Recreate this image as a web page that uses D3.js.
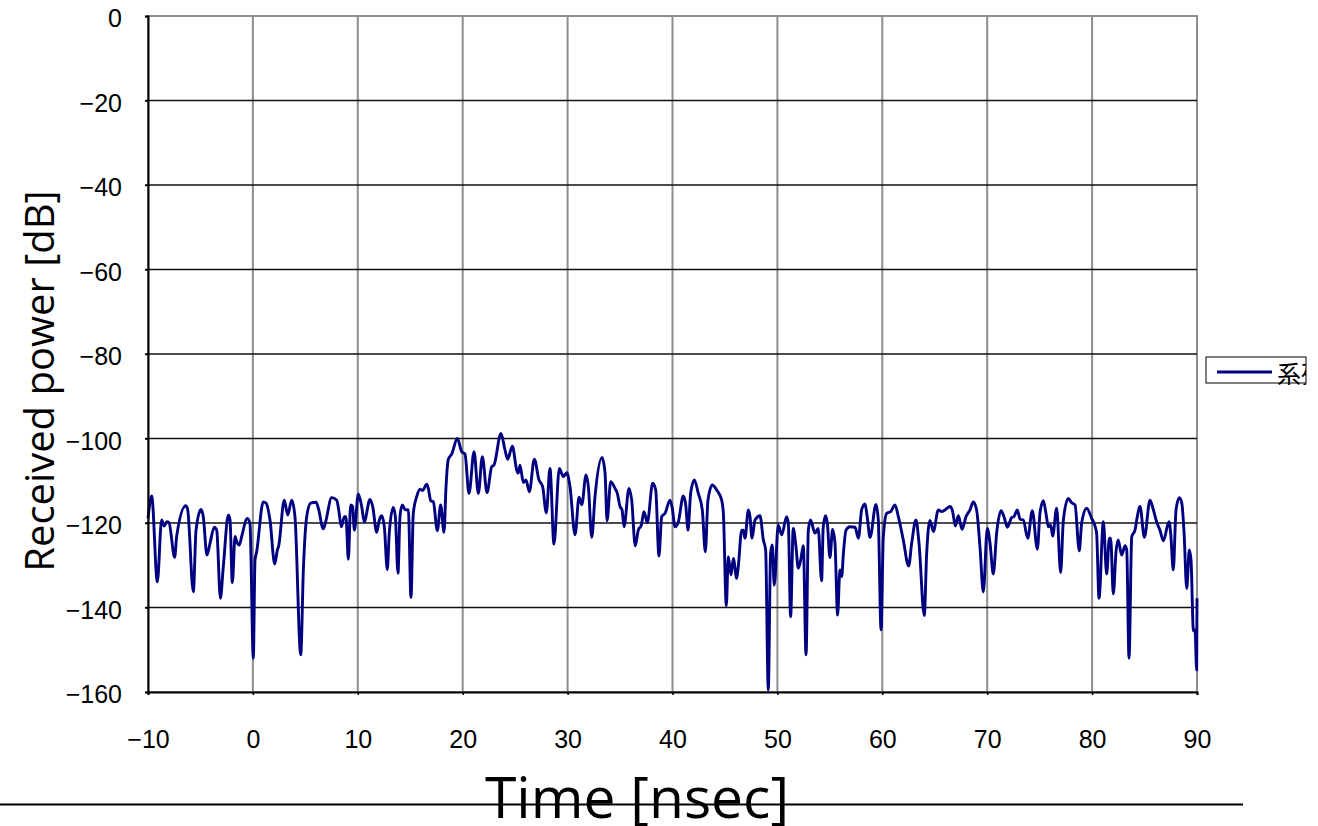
<!DOCTYPE html>
<html lang="en">
<head>
    <meta charset="UTF-8">
    <title>Received power vs time</title>
    <script src="https://d3js.org/d3.v7.min.js"></script>
    <style>
        body {
            margin: 0;
            background: #fff;
        }

        .tick-label {
            font-family: "Liberation Sans", Arial, sans-serif;
            font-size: 25px;
            fill: #000;
        }

        .axis-title {
            font-family: "Open Sans", "Noto Sans", sans-serif;
            fill: #000;
        }

        .grid-x {
            stroke: #8e8e8e;
            stroke-width: 2;
        }

        .grid-y {
            stroke: #111;
            stroke-width: 1.3;
        }

        .series {
            fill: none;
            stroke: #000080;
            stroke-width: 2.9;
            stroke-linejoin: round;
        }
    </style>
</head>
<body>
    <div id="chart"></div>

    <script>
        // time axis (nsec) and received power (dB)
        const timeNs = [
            -10.0, -9.65, -9.11, -8.70, -8.47, -8.20, -8.00, -7.46, -7.27, -6.40,
            -6.22, -5.68, -5.42, -4.95, -4.73, -4.38, -4.09, -3.68, -3.45, -3.10,
            -2.82, -2.34, -2.18, -1.96, -1.70, -1.54, -1.29, -1.07, -0.53, -0.28,
            0.04, 0.20, 0.36, 0.99, 1.25, 1.63, 2.08, 2.33, 2.46, 2.99,
            3.32, 3.70, 4.01, 4.56, 4.81, 5.13, 5.51, 6.02, 6.24, 6.71,
            6.90, 7.51, 7.99, 8.18, 8.43, 8.72, 8.87, 9.10, 9.32, 9.51,
            9.67, 10.05, 10.37, 10.62, 11.16, 11.42, 11.80, 12.05, 12.28, 12.53,
            12.81, 13.00, 13.38, 13.58, 13.83, 14.02, 14.24, 14.50, 14.82, 15.07,
            15.29, 15.61, 15.93, 16.19, 16.57, 16.72, 16.95, 17.20, 17.58, 17.90,
            18.22, 18.41, 18.63, 18.95, 19.49, 19.90, 20.22, 20.60, 21.08, 21.49,
            21.87, 22.32, 22.76, 22.98, 23.65, 24.03, 24.29, 24.73, 25.15, 25.30,
            25.46, 25.78, 26.03, 26.35, 26.83, 27.27, 27.62, 27.97, 28.32, 28.70,
            29.21, 29.59, 29.92, 30.23, 30.71, 31.09, 31.35, 31.76, 31.98, 32.30,
            32.61, 33.28, 33.57, 33.76, 34.11, 34.52, 34.74, 35.00, 35.19, 35.38,
            35.85, 36.11, 36.45, 36.74, 37.03, 37.28, 37.60, 38.11, 38.40, 38.71,
            38.97, 39.29, 39.76, 39.98, 40.24, 40.56, 41.03, 41.26, 41.48, 41.73,
            42.08, 42.46, 42.84, 43.13, 43.38, 43.80, 44.21, 44.69, 44.85, 45.13,
            45.32, 45.58, 45.80, 46.12, 46.27, 46.60, 46.75, 46.91, 47.23, 47.39,
            47.58, 47.87, 48.34, 48.66, 48.88, 49.13, 49.35, 49.51, 49.70, 50.08,
            50.41, 50.88, 51.04, 51.26, 51.51, 51.77, 51.99, 52.22, 52.47, 52.73,
            52.95, 53.16, 53.58, 53.89, 54.21, 54.37, 54.59, 54.76, 55.01, 55.26,
            55.49, 55.74, 55.96, 56.13, 56.29, 56.54, 56.92, 57.40, 57.72, 58.03,
            58.35, 58.56, 58.83, 59.40, 59.62, 59.88, 60.10, 60.42, 60.80, 61.21,
            61.53, 62.00, 62.51, 62.80, 63.21, 63.50, 64.00, 64.23, 64.55, 64.87,
            65.34, 65.66, 65.98, 66.46, 66.71, 66.96, 67.25, 67.60, 67.98, 68.36,
            68.67, 68.99, 69.31, 69.63, 70.01, 70.27, 70.58, 70.90, 71.32, 71.60,
            71.92, 72.34, 72.55, 72.87, 73.13, 73.44, 73.86, 74.30, 74.78, 75.03,
            75.35, 75.60, 75.83, 76.05, 76.24, 76.62, 77.00, 77.26, 77.73, 78.05,
            78.37, 78.78, 79.00, 79.48, 79.96, 80.27, 80.43, 80.66, 81.07, 81.39,
            81.64, 81.77, 82.02, 82.28, 82.49, 82.82, 83.14, 83.30, 83.52, 83.78,
            84.09, 84.25, 84.57, 84.98, 85.52, 85.84, 86.16, 86.47, 86.79, 87.33,
            87.49, 87.74, 88.00, 88.32, 88.55, 88.77, 89.02, 89.27, 89.43, 89.66,
            89.81, 89.97, 90.00
        ];

        const powerDb = [
            -118.9, -113.6, -133.9, -119.3, -120.7, -119.7, -119.9, -128.1, -123.2, -115.9,
            -116.8, -136.3, -121.7, -116.8, -118.5, -127.6, -124.8, -121.0, -121.7, -137.8,
            -130.3, -118.1, -119.3, -134.1, -123.2, -124.4, -125.2, -123.2, -118.9, -120.1,
            -152.0, -128.8, -126.8, -115.0, -115.3, -119.3, -129.7, -126.4, -125.4, -114.6,
            -118.1, -114.6, -118.5, -151.2, -131.1, -118.5, -115.3, -115.1, -116.5, -121.4,
            -120.1, -114.0, -114.6, -116.9, -120.9, -118.5, -118.5, -128.6, -115.7, -116.1,
            -121.7, -113.1, -116.1, -119.7, -114.4, -116.1, -122.2, -119.3, -118.3, -120.9,
            -131.0, -122.4, -116.3, -118.5, -131.9, -118.5, -115.7, -116.8, -116.9, -137.6,
            -117.7, -113.8, -112.0, -112.3, -110.8, -111.8, -114.7, -115.0, -121.8, -115.7,
            -122.2, -111.4, -104.9, -103.7, -100.0, -103.1, -103.7, -113.0, -103.1, -113.0,
            -104.3, -112.8, -106.7, -106.3, -98.8, -102.7, -104.9, -101.8, -107.5, -108.2,
            -106.3, -110.4, -109.8, -112.6, -104.9, -109.8, -111.4, -117.6, -107.1, -125.0,
            -107.1, -109.0, -108.1, -111.4, -122.8, -113.9, -115.7, -108.6, -111.4, -123.4,
            -113.8, -104.5, -108.2, -119.5, -110.2, -111.8, -113.0, -116.1, -116.9, -120.9,
            -111.8, -114.6, -125.4, -121.7, -120.5, -117.3, -119.9, -110.6, -112.2, -127.8,
            -118.5, -117.7, -114.6, -116.5, -120.9, -119.7, -113.6, -115.7, -121.7, -113.0,
            -109.8, -113.0, -116.9, -126.8, -114.6, -111.0, -112.2, -114.6, -117.7, -139.6,
            -128.0, -132.3, -128.4, -133.1, -130.3, -121.7, -121.7, -123.6, -116.9, -118.5,
            -123.6, -119.3, -118.3, -124.0, -126.4, -159.5, -127.2, -125.2, -134.7, -120.5,
            -122.8, -118.5, -120.1, -142.2, -121.3, -125.6, -130.7, -128.8, -125.4, -151.2,
            -121.7, -119.3, -122.4, -121.3, -133.7, -120.9, -118.3, -120.1, -128.2, -121.5,
            -124.8, -141.8, -131.1, -132.7, -127.2, -121.7, -120.9, -121.0, -123.6, -116.9,
            -115.5, -118.5, -123.4, -115.6, -119.3, -145.3, -123.2, -117.7, -117.3, -115.7,
            -118.5, -124.0, -130.2, -124.8, -119.3, -124.8, -141.9, -127.2, -119.4, -122.0,
            -116.9, -117.3, -116.9, -116.1, -117.3, -120.7, -118.3, -121.5, -118.5, -116.9,
            -115.0, -116.9, -125.6, -136.3, -121.3, -124.8, -132.1, -122.4, -117.1, -118.5,
            -121.0, -118.7, -118.5, -116.9, -119.1, -119.3, -123.6, -117.1, -126.2, -117.7,
            -114.7, -117.7, -120.9, -120.5, -123.1, -116.5, -131.7, -119.3, -114.2, -115.2,
            -115.7, -126.6, -120.1, -116.5, -118.9, -120.7, -122.4, -137.8, -119.7, -132.1,
            -123.6, -123.6, -136.8, -126.8, -124.0, -127.6, -125.4, -126.4, -152.0, -123.2,
            -121.7, -119.3, -116.1, -123.4, -114.6, -116.9, -119.8, -121.7, -124.2, -119.7,
            -122.4, -131.1, -116.9, -114.0, -115.3, -122.4, -135.5, -126.4, -128.8, -145.5,
            -145.3, -154.8, -137.8
        ];

        const xTicks = [-10, 0, 10, 20, 30, 40, 50, 60, 70, 80, 90];
        const yTicks = [0, -20, -40, -60, -80, -100, -120, -140, -160];
        const seriesName = "系列1";

        const totalWidth = 1318, totalHeight = 826;
        const plot = { left: 148, right: 1197, top: 16, bottom: 692 };

        const svg = d3.select("#chart")
            .append("svg")
            .attr("width", totalWidth)
            .attr("height", totalHeight);

        const x = d3.scaleLinear().domain([-10, 90]).range([plot.left, plot.right]);
        const y = d3.scaleLinear().domain([-160, 0]).range([plot.bottom, plot.top]);
        const fmt = d3.format("d");

        // plot border (grey) then grid
        svg.append("rect")
            .attr("x", plot.left)
            .attr("y", plot.top)
            .attr("width", plot.right - plot.left)
            .attr("height", plot.bottom - plot.top)
            .attr("fill", "#fff")
            .attr("stroke", "#8e8e8e")
            .attr("stroke-width", 2);

        svg.append("g")
            .selectAll("line")
            .data(xTicks.slice(1, -1))
            .join("line")
            .attr("class", "grid-x")
            .attr("x1", d => x(d)).attr("x2", d => x(d))
            .attr("y1", plot.top).attr("y2", plot.bottom);

        svg.append("g")
            .selectAll("line")
            .data(yTicks.slice(1, -1))
            .join("line")
            .attr("class", "grid-y")
            .attr("x1", plot.left - 3).attr("x2", plot.right)
            .attr("y1", d => y(d)).attr("y2", d => y(d));

        // data line
        const line = d3.line()
            .x((d, i) => x(timeNs[i]))
            .y(d => y(d))
            .curve(d3.curveMonotoneX);

        svg.append("path")
            .datum(powerDb)
            .attr("class", "series")
            .attr("d", line);

        // axes
        const xAxis = svg.append("g")
            .attr("transform", `translate(0,${plot.bottom})`)
            .call(d3.axisBottom(x).tickValues(xTicks).tickSize(3).tickFormat(fmt));

        const yAxis = svg.append("g")
            .attr("transform", `translate(${plot.left},0)`)
            .call(d3.axisLeft(y).tickValues(yTicks).tickSize(3).tickFormat(fmt));

        [xAxis, yAxis].forEach(a => {
            a.select(".domain").attr("stroke", "#000").attr("stroke-width", 2);
            a.selectAll(".tick line").attr("stroke", "#000").attr("stroke-width", 1.5);
            a.selectAll(".tick text").attr("class", "tick-label").attr("fill", "#000");
        });

        xAxis.selectAll(".tick text")
            .attr("y", 0)
            .attr("dy", 0)
            .attr("transform", "translate(0,56)");

        yAxis.selectAll(".tick text")
            .attr("x", -26)
            .attr("dy", "0.42em");

        // axis titles
        svg.append("text")
            .attr("class", "axis-title")
            .attr("text-anchor", "middle")
            .attr("transform", "translate(54,381) rotate(-90)")
            .style("font-size", "40px")
            .text("Received power [dB]");

        svg.append("text")
            .attr("class", "axis-title")
            .attr("text-anchor", "middle")
            .attr("x", 637)
            .attr("y", 818)
            .style("font-size", "57px")
            .text("Time [nsec]");

        // stray rule across the bottom
        svg.append("line")
            .attr("x1", 0).attr("x2", 1243)
            .attr("y1", 804.5).attr("y2", 804.5)
            .attr("stroke", "#000")
            .attr("stroke-width", 2);

        // legend box (text clipped at the box edge)
        const legend = { x: 1206, y: 357, w: 100, h: 26 };

        svg.append("defs").append("clipPath")
            .attr("id", "legend-clip")
            .append("rect")
            .attr("x", legend.x)
            .attr("y", legend.y)
            .attr("width", legend.w)
            .attr("height", legend.h + 2);

        svg.append("rect")
            .attr("x", legend.x)
            .attr("y", legend.y)
            .attr("width", legend.w)
            .attr("height", legend.h)
            .attr("fill", "#fff")
            .attr("stroke", "#000")
            .attr("stroke-width", 1);

        svg.append("line")
            .attr("x1", legend.x + 11).attr("x2", legend.x + 66)
            .attr("y1", legend.y + 15).attr("y2", legend.y + 15)
            .attr("stroke", "#000080")
            .attr("stroke-width", 2.9);

        svg.append("text")
            .attr("clip-path", "url(#legend-clip)")
            .attr("x", legend.x + 71)
            .attr("y", legend.y + 26)
            .style("font-family", "'Noto Sans CJK JP', sans-serif")
            .style("font-size", "24px")
            .text(seriesName);
    </script>
</body>
</html>
